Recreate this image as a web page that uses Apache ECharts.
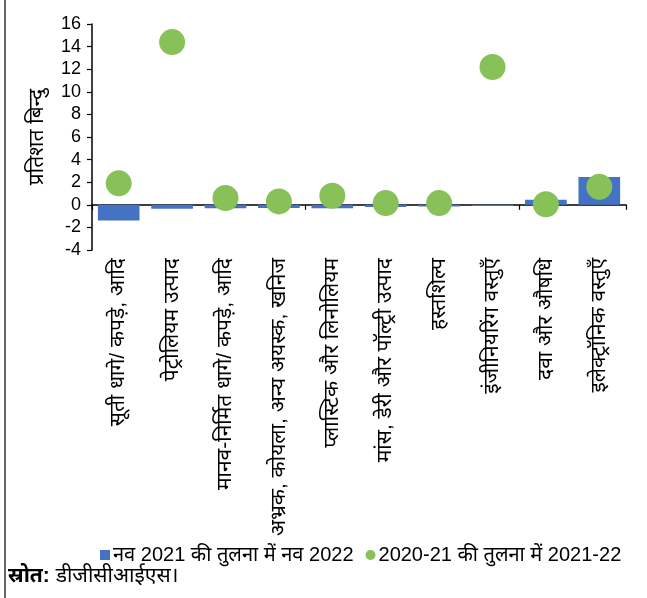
<!DOCTYPE html>
<html>
<head>
<meta charset="utf-8">
<script src="https://cdn.jsdelivr.net/npm/echarts@6/dist/echarts.min.js"></script>
<style>
  html, body { margin: 0; padding: 0; background: #fff; }
  #chart { width: 647px; height: 598px; }
</style>
</head>
<body>
<div id="chart"></div>
<script>
// Export sectors
const categories = [
  'सूती धागे/ कपड़े, आदि',
  'पेट्रोलियम उत्पाद',
  'मानव-निर्मित धागे/ कपड़े, आदि',
  'अभ्रक, कोयला, अन्य अयस्क, खनिज',
  'प्लास्टिक और लिनोलियम',
  'मांस, डेरी और पॉल्ट्री उत्पाद',
  'हस्तशिल्प',
  'इंजीनियरिंग वस्तुएँ',
  'दवा और औषधि',
  'इलेक्ट्रॉनिक वस्तुएँ'
];

// Percentage-point changes
const novChange = [-1.4, -0.35, -0.3, -0.28, -0.3, -0.2, -0.15, -0.1, 0.45, 2.45];
const yearChange = [1.9, 14.4, 0.6, 0.3, 0.8, 0.15, 0.15, 12.2, 0.05, 1.6];

const seriesNames = ['नव 2021 की तुलना में नव 2022', '2020-21 की तुलना में 2021-22'];
const yAxisTitle = 'प्रतिशत बिन्दु';
const sourceLabel = 'स्रोत:';
const sourceText = ' डीजीसीआईएस।';

const FONT = '"Liberation Sans", Arial, "Noto Sans Devanagari", "Noto Sans", sans-serif';
const BLUE = '#4472C4';
const GREEN = '#88C158';

const chart = echarts.init(document.getElementById('chart'));
chart.setOption({
  animation: false,
  textStyle: { fontFamily: FONT, color: '#000' },
  grid: { left: 92, right: 21, top: 24, bottom: 348, containLabel: false },
  xAxis: [
    {
      type: 'category',
      data: categories,
      axisLine: { onZero: true, lineStyle: { color: '#000', width: 1.5 } },
      axisTick: { show: true, length: 5, lineStyle: { color: '#000', width: 1.2 } },
      axisLabel: { show: false },
      splitLine: { show: false }
    },
    {
      type: 'category',
      data: categories,
      position: 'bottom',
      axisLine: { show: false, onZero: false },
      axisTick: { show: false },
      axisLabel: {
        rotate: 90,
        margin: 8,
        interval: 0,
        fontSize: 21,
        color: '#000',
        fontFamily: FONT
      },
      splitLine: { show: false }
    }
  ],
  yAxis: {
    type: 'value',
    min: -4,
    max: 16,
    interval: 2,
    name: yAxisTitle,
    nameLocation: 'middle',
    nameRotate: 90,
    nameGap: 44,
    nameTextStyle: { fontSize: 21, color: '#000', fontFamily: FONT },
    axisLine: { show: true, lineStyle: { color: '#000', width: 1.5 } },
    axisTick: { show: true, length: 5, lineStyle: { color: '#000', width: 1.2 } },
    axisLabel: { fontSize: 18, color: '#000', margin: 11, fontFamily: FONT },
    splitLine: { show: false }
  },
  legend: {
    left: 95,
    top: 540,
    itemWidth: 10,
    itemHeight: 10,
    itemGap: 12,
    textStyle: { fontSize: 20, color: '#000', fontFamily: FONT, padding: [0, 0, 0, -2] },
    data: [
      { name: seriesNames[0], icon: 'rect' },
      { name: seriesNames[1], icon: 'circle' }
    ]
  },
  series: [
    {
      name: seriesNames[0],
      type: 'bar',
      xAxisIndex: 0,
      data: novChange,
      barWidth: '78%',
      itemStyle: { color: BLUE }
    },
    {
      name: seriesNames[1],
      type: 'scatter',
      xAxisIndex: 0,
      data: yearChange,
      symbol: 'circle',
      symbolSize: 26,
      z: 5,
      itemStyle: { color: GREEN, opacity: 1 }
    }
  ],
  graphic: [
    {
      type: 'line',
      shape: { x1: 5, y1: 0, x2: 5, y2: 598 },
      style: { stroke: '#333', lineWidth: 1.5 }
    },
    {
      type: 'text',
      left: 8,
      top: 566,
      style: {
        rich: {
          b: { fontWeight: 'bold', fontSize: 21, fontFamily: FONT, fill: '#000' },
          n: { fontSize: 21, fontFamily: FONT, fill: '#000' }
        },
        text: '{b|' + sourceLabel + '}{n|' + sourceText + '}'
      }
    }
  ]
});
</script>
</body>
</html>
